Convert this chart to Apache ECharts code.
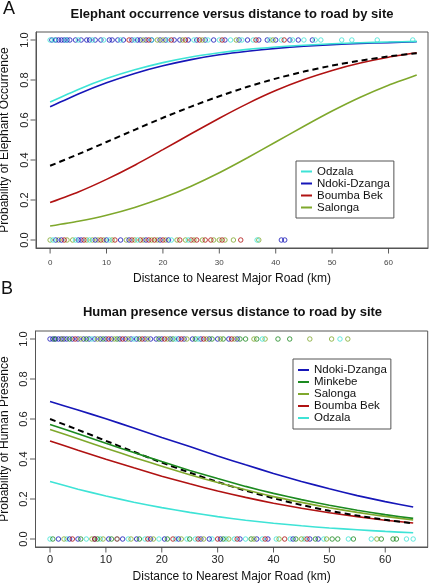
<!DOCTYPE html>
<html><head><meta charset="utf-8">
<script src="https://cdn.jsdelivr.net/npm/echarts@6/dist/echarts.min.js"></script>
<style>html,body{margin:0;padding:0;background:#fff}#c{width:429px;height:585px}</style>
</head><body><div id="c"></div>
<script>
// ---------- data ----------
const distance = [0,5,10,15,20,25,30,35,40,45,50,55,60,65];
const xTicks = [0,10,20,30,40,50,60];
const yTicks = [0,0.2,0.4,0.6,0.8,1.0];

// Panel A: elephant occurrence fitted probabilities
const eleOdzala  = [0.690,0.753,0.807,0.851,0.887,0.915,0.936,0.953,0.965,0.974,0.981,0.986,0.990,0.993];
const eleNdoki   = [0.666,0.730,0.786,0.833,0.871,0.902,0.926,0.944,0.958,0.969,0.977,0.983,0.987,0.991];
const eleAll     = [0.371,0.429,0.490,0.551,0.611,0.667,0.719,0.766,0.807,0.842,0.872,0.897,0.918,0.934];
const eleBoumba  = [0.187,0.240,0.303,0.374,0.452,0.531,0.609,0.682,0.747,0.802,0.848,0.885,0.914,0.936];
const eleSalonga = [0.070,0.094,0.124,0.163,0.211,0.269,0.336,0.411,0.490,0.569,0.645,0.714,0.774,0.825];

// Panel A observations (distance, km) at occurrence = 1 and = 0
const elePresNdoki   = [0.3,1,1.5,2,2.5,3,3.5,4.5,5.5,6.5,7,8,9,10.5,11,12,13,14.5,15.5,16,17,18,19.5,20.5,22,23,24.5,26,27.5,29,31,33.5,35,37,38.5,40,42.5,44,46.5];
const elePresOdzala  = [0,0.8,2.8,5,7.5,9.5,12.5,15,18,21,25.5,28,30,32,34,36,39,41,43,45,47,48,51.7,53.5,58,64.3];
const elePresBoumba  = [14,17.5,21.5,24,26.5,30.5,36.5,41.5];
const elePresSalonga = [16.5,19,20,23.5,27,33,39.5];
const eleAbsSalonga  = [0,1.5,3,4,6.5,7.5,8.5,9.5,11,13.5,15,16.5,18,19,20.5,22.5,24,25.5,27,29,30,31,32.5,37];
const eleAbsNdoki    = [1,2,5,5.5,8,10,12.5,14,17,19.5,21,41,41.6];
const eleAbsBoumba   = [2.5,6,9,11.5,14.5,16,17.5,18.5,20,23,25,26,27.5,28.5,30.5,33.8];
const eleAbsOdzala   = [0.5,4.5,7,10.5,15.5,21.5,24.5,36.7];

// Panel B: human presence fitted probabilities
const humNdoki   = [0.687,0.645,0.601,0.555,0.508,0.462,0.415,0.371,0.328,0.288,0.251,0.217,0.187,0.160];
const humMinkebe = [0.573,0.526,0.479,0.432,0.387,0.343,0.302,0.263,0.228,0.197,0.169,0.144,0.122,0.103];
const humSalonga = [0.548,0.501,0.454,0.408,0.364,0.321,0.282,0.246,0.212,0.183,0.156,0.133,0.113,0.095];
const humAll     = [0.600,0.546,0.491,0.436,0.382,0.332,0.285,0.242,0.204,0.170,0.141,0.117,0.096,0.078];
const humBoumba  = [0.490,0.444,0.399,0.356,0.314,0.276,0.240,0.208,0.179,0.154,0.131,0.112,0.094,0.080];
const humOdzala  = [0.287,0.249,0.215,0.184,0.157,0.133,0.112,0.094,0.079,0.066,0.055,0.046,0.038,0.031];

// Panel B observations
const humPresNdoki   = [0,0.5,1,1.5,2,2.5,3,4,5,6,7,8,9,10,11,12.5,13.5,14.5,15.5,17,18,19,20,21.5,23,24,25.5,27,28.5,30,32,33.5];
const humPresMinkebe = [0.8,3.5,6.5,9.5,12,16,19.5,22,26,29,31,34,35,37,40.8,42.9];
const humPresSalonga = [2.2,5.5,8.5,11.5,14,17.5,21,24.5,28,30.5,33,36.5,38.5,46.5,50.4,53.3];
const humPresBoumba  = [4.5,10.5,13,16.5,20.5,23.5,27.5,32.5];
const humPresOdzala  = [7.5,15,22.5,26.5,38,51.9];
const humAbsOdzala   = [0,3,6.5,9,12,14,17,19.5,22.5,24.5,26,29,31.5,33,35,38,40.5,43,45.5,49,53.4,57.5,63.8,65];
const humAbsNdoki    = [1.5,3.5,5,8,10.5,13,15.5,18,20.5,23,27,28.5,30.5,34,37,39,43.5,46.5,48];
const humAbsMinkebe  = [0.5,5.5,8.5,11,16,21,25,31,36,44,47.5,50.5,51.5,54.3,59.3,61.4,62];
const humAbsSalonga  = [2.5,7.5,9.5,14.5,18.5,23.5,27.5,32,36.5,41,45,49.5,58.5];
const humAbsBoumba   = [4,8,12,17.5,22,26.5,30,33.5,38.5,42,46];

const legendA = ['Odzala','Ndoki-Dzanga','Boumba Bek','Salonga'];
const legendB = ['Ndoki-Dzanga','Minkebe','Salonga','Boumba Bek','Odzala'];

// ---------- styles ----------
const colors = {
  'Odzala':'#3EE3D6', 'Ndoki-Dzanga':'#1616B8', 'Boumba Bek':'#B01212',
  'Salonga':'#7FA82C', 'Minkebe':'#1C8A20'
};
const FONT = 'Liberation Sans, Arial, sans-serif';
const X_RANGE = [[-2.5, 67], [-2.6, 67.6]];
const Y_RANGE = [-0.04, 1.04];

function curve(name, vals, idx, dashed) {
  return {
    type:'line', name:name, xAxisIndex:idx, yAxisIndex:idx,
    data: distance.map((d,i)=>[d, vals[i]]),
    smooth:0.2, symbol:'none', z:5,
    color: dashed ? '#000' : colors[name],
    lineStyle: dashed ? {color:'#000', width:2, type:[6,4]} : {color:colors[name], width:1.6},
    emphasis:{disabled:true}, silent:true
  };
}
function pts(site, xs, yv, idx) {
  return {
    type:'scatter', name:site+' obs', xAxisIndex:idx, yAxisIndex:idx,
    data: xs.map(x=>[x, yv]), symbol:'circle', symbolSize:4.5, z:2,
    itemStyle:{color:'rgba(0,0,0,0)', borderColor:colors[site], borderWidth:1},
    emphasis:{disabled:true}, silent:true
  };
}
// outward tick marks as thin rect symbols placed by the axes' own scale
function ticks(idx, vertical) {
  const data = vertical ? xTicks.map(v=>[v, Y_RANGE[0]]) : yTicks.map(v=>[X_RANGE[idx][0], v]);
  return {
    type:'scatter', name:'ticks'+idx+(vertical?'x':'y'), xAxisIndex:idx, yAxisIndex:idx,
    data:data, clip:false, silent:true, z:10,
    symbol:'rect', symbolSize: vertical ? [1,5] : [5,1], symbolOffset: vertical ? [0,3] : [-3,0],
    itemStyle:{color:'#333'}, emphasis:{disabled:true}
  };
}
function xAx(idx, labSize, labColor, labMargin, nameGap) {
  return {
    type:'value', gridIndex:idx, min:X_RANGE[idx][0], max:X_RANGE[idx][1],
    name:'Distance to Nearest Major Road (km)', nameLocation:'middle', nameGap:nameGap,
    nameTextStyle:{fontFamily:FONT, fontSize:12, color:'#111'},
    axisLine:{show:true, onZero:false, lineStyle:{color:'#555', width:1}}, splitLine:{show:false},
    axisTick:{show:false},
    axisLabel:{customValues:xTicks, fontFamily:FONT, fontSize:labSize, color:labColor, margin:labMargin}
  };
}
function yAx(idx, name) {
  return {
    type:'value', gridIndex:idx, min:Y_RANGE[0], max:Y_RANGE[1],
    name:name, nameLocation:'middle', nameGap:23.5, nameRotate:90,
    nameTextStyle:{fontFamily:FONT, fontSize:12, color:'#111'},
    axisLine:{show:true, onZero:false, lineStyle:{color:'#555', width:1}}, splitLine:{show:false},
    axisTick:{show:false},
    axisLabel:{customValues:yTicks, rotate:90, fontFamily:FONT, fontSize:11, color:'#222', margin:6,
      formatter:v=>v.toFixed(1)}
  };
}

const series = [
  pts('Ndoki-Dzanga', elePresNdoki, 1, 0), pts('Odzala', elePresOdzala, 1, 0),
  pts('Boumba Bek', elePresBoumba, 1, 0), pts('Salonga', elePresSalonga, 1, 0),
  pts('Salonga', eleAbsSalonga, 0, 0), pts('Ndoki-Dzanga', eleAbsNdoki, 0, 0),
  pts('Boumba Bek', eleAbsBoumba, 0, 0), pts('Odzala', eleAbsOdzala, 0, 0),
  curve('Salonga', eleSalonga, 0), curve('Boumba Bek', eleBoumba, 0),
  curve('All sites', eleAll, 0, true),
  curve('Ndoki-Dzanga', eleNdoki, 0), curve('Odzala', eleOdzala, 0),

  pts('Ndoki-Dzanga', humPresNdoki, 1, 1), pts('Minkebe', humPresMinkebe, 1, 1),
  pts('Salonga', humPresSalonga, 1, 1), pts('Boumba Bek', humPresBoumba, 1, 1),
  pts('Odzala', humPresOdzala, 1, 1),
  pts('Odzala', humAbsOdzala, 0, 1), pts('Ndoki-Dzanga', humAbsNdoki, 0, 1),
  pts('Minkebe', humAbsMinkebe, 0, 1), pts('Salonga', humAbsSalonga, 0, 1),
  pts('Boumba Bek', humAbsBoumba, 0, 1),
  curve('Odzala', humOdzala, 1), curve('Boumba Bek', humBoumba, 1),
  curve('All sites', humAll, 1, true),
  curve('Salonga', humSalonga, 1), curve('Minkebe', humMinkebe, 1),
  curve('Ndoki-Dzanga', humNdoki, 1),

  ticks(0, true), ticks(0, false), ticks(1, true), ticks(1, false)
];

const legendCommon = {
  orient:'vertical', icon:'rect', itemWidth:11, itemHeight:2, itemGap:0,
  borderColor:'#555', borderWidth:1, backgroundColor:'#fff', selectedMode:false,
  textStyle:{fontFamily:FONT, fontSize:11.5, color:'#111', lineHeight:9.5}
};

const option = {
  animation:false,
  backgroundColor:'#fff',
  grid:[
    {left:36, right:1, top:32, height:216, show:true, borderColor:'#555', borderWidth:1, containLabel:false, outerBoundsMode:'none'},
    {left:35.5, right:1.3, top:331, height:216, show:true, borderColor:'#555', borderWidth:1, containLabel:false, outerBoundsMode:'none'}
  ],
  xAxis:[ xAx(0, 8, '#444', 10.5, 24.5), xAx(1, 11, '#222', 7, 23.5) ],
  yAxis:[ yAx(0, 'Probability of Elephant Occurrence'), yAx(1, 'Probability of Human Presence') ],
  legend:[
    Object.assign({}, legendCommon, {data:legendA, left:296, top:161, padding:[4.5,4,4.5,5]}),
    Object.assign({}, legendCommon, {data:legendB, left:293, top:359, padding:[5,4,5,5]})
  ],
  graphic:[
    {type:'text', x:3, y:8.7, style:{text:'A', font:'18px '+FONT, fill:'#111', textAlign:'left', textVerticalAlign:'middle'}},
    {type:'text', x:232, y:14, style:{text:'Elephant occurrence versus distance to road by site', font:'bold 13px '+FONT, fill:'#111', textAlign:'center', textVerticalAlign:'middle'}},
    {type:'text', x:1, y:288.7, style:{text:'B', font:'18px '+FONT, fill:'#111', textAlign:'left', textVerticalAlign:'middle'}},
    {type:'text', x:232.5, y:312.7, style:{text:'Human presence versus distance to road by site', font:'bold 13px '+FONT, fill:'#111', textAlign:'center', textVerticalAlign:'middle'}}
  ],
  series:series
};
const chart = echarts.init(document.getElementById('c'), null, {renderer:'canvas'});
chart.setOption(option);
</script>
</body></html>
